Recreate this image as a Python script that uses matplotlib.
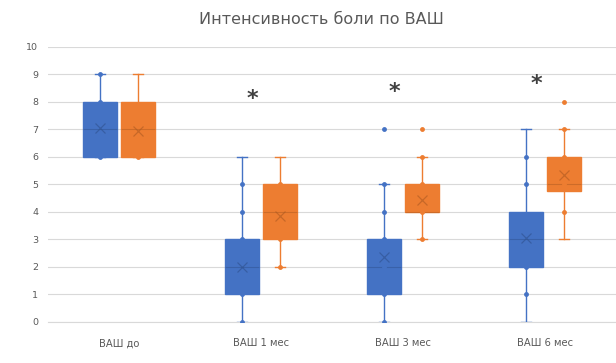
import matplotlib
matplotlib.use("Agg")
import matplotlib.pyplot as plt

categories = ["ВАШ до", "ВАШ 1 мес", "ВАШ 3 мес", "ВАШ 6 мес"]

# Series 1 (blue)
b_q1 = [6, 1, 1, 2]
b_med = [7, 2, 2, 3]
b_q3 = [8, 3, 3, 4]
b_lo = [6, 0, 0, 0]
b_hi = [9, 6, 5, 7]
b_mean = [7.03, 2.0, 2.36, 3.05]
b_points = [[6, 8, 9], [0, 1, 3, 4, 5], [0, 1, 2, 3, 4, 5], [1, 2, 5, 6]]
b_outliers = [[], [], [7], []]

# Series 2 (orange)
o_q1 = [6, 3, 4, 4.75]
o_med = [7, 4, 4, 5]
o_q3 = [8, 5, 5, 6]
o_lo = [6, 2, 3, 3]
o_hi = [9, 6, 6, 7]
o_mean = [6.93, 3.84, 4.42, 5.33]
o_points = [[6], [2, 3, 5], [3, 4, 5, 6], [4, 5, 6, 7]]
o_outliers = [[], [], [7], [8]]

star_y = [None, 8.1, 8.35, 8.63]

BLUE = "#4472C4"
ORANGE = "#ED7D31"

fig = plt.figure(figsize=(6.16, 3.63), dpi=100)
ax = fig.add_axes([48 / 616, 41.3 / 363, (616 - 48) / 616, 275 / 363])

offset = 0.134
width = 0.24

def draw(q1, med, q3, lo, hi, mean, pts, outs, color, dark, shift):
    stats = []
    for i in range(len(categories)):
        stats.append(dict(q1=q1[i], med=med[i], q3=q3[i], whislo=lo[i], whishi=hi[i],
                          mean=mean[i], fliers=outs[i], label=categories[i]))
    pos = [i + shift for i in range(len(categories))]
    ax.bxp(stats, positions=pos, widths=width, patch_artist=True, showmeans=True,
           showfliers=False, capwidths=0.07,
           boxprops=dict(facecolor=color, edgecolor=color, linewidth=1),
           whiskerprops=dict(color=color, linewidth=1),
           capprops=dict(color=color, linewidth=1),
           medianprops=dict(color=dark, linewidth=0.8, alpha=0.5),
           meanprops=dict(marker="x", markeredgecolor=dark, markersize=7, markeredgewidth=0.9, alpha=0.6),
           manage_ticks=False, zorder=3)
    for i in range(len(categories)):
        allp = pts[i] + outs[i]
        ax.plot([pos[i]] * len(allp), allp, "o", color=color, markersize=3.5, zorder=4,
                markeredgewidth=0)

draw(b_q1, b_med, b_q3, b_lo, b_hi, b_mean, b_points, b_outliers, BLUE, "#2F528F", -offset)
draw(o_q1, o_med, o_q3, o_lo, o_hi, o_mean, o_points, o_outliers, ORANGE, "#AE5A21", offset)

for i, y in enumerate(star_y):
    if y is not None:
        ax.text(i - 0.06, y, "*", ha="center", va="center", fontsize=16,
                fontweight="bold", color="#404040")

ax.set_xlim(-0.5, 3.5)
ax.set_ylim(0, 10)
ax.set_yticks(range(0, 11))
ax.set_xticks(range(len(categories)))
ax.set_xticklabels(categories)
ax.grid(axis="y", color="#D9D9D9", linewidth=0.8, zorder=0)
ax.set_axisbelow(True)
for s in ["top", "right", "left"]:
    ax.spines[s].set_visible(False)
ax.spines["bottom"].set_color("#D9D9D9")
ax.tick_params(axis="both", length=0, labelsize=6.8, labelcolor="#595959")
ax.tick_params(axis="x", labelsize=7.2, pad=12)
ax.tick_params(axis="y", pad=7)

fig.text(321 / 616, 1 - 20 / 363, "Интенсивность боли по ВАШ", ha="center", va="center",
         fontsize=11.5, color="#595959")

fig.savefig("out.png", dpi=100)
